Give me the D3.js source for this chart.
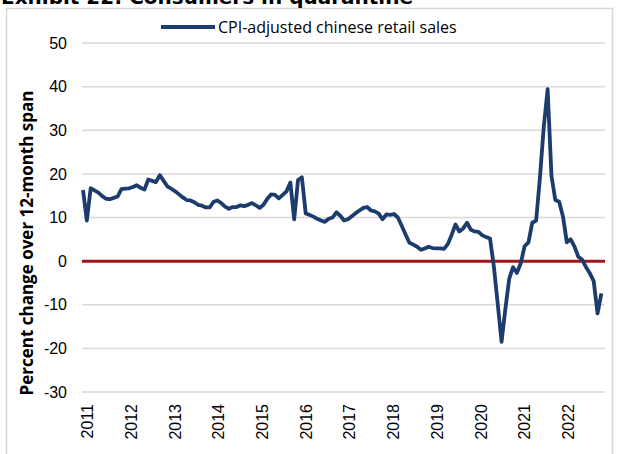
<!DOCTYPE html>
<html>
<head>
<meta charset="utf-8">
<script src="https://cdn.jsdelivr.net/npm/d3@7"></script>
<style>
  body { margin: 0; background: #fff; }
  svg { display: block; font-family: "Open Sans", sans-serif; }
</style>
</head>
<body>
<script>
// data
var yearLabels = ['2011','2012','2013','2014','2015','2016','2017','2018','2019','2020','2021','2022']
var yTicks = [50, 40, 30, 20, 10, 0, -10, -20, -30]
var seriesName = 'CPI-adjusted chinese retail sales'
var retailSales = [
  16.3, 9.3, 16.7, 16.2, 15.7, 14.9, 14.3, 14.2, 14.5, 14.8,
  16.5, 16.6, 16.7, 17.0, 17.4, 16.8, 16.4, 18.7, 18.4, 18.1,
  19.7, 18.4, 17.1, 16.6, 16.0, 15.3, 14.6, 14.0, 13.9, 13.5,
  12.9, 12.7, 12.3, 12.3, 13.6, 13.9, 13.3, 12.5, 12.0, 12.4,
  12.4, 12.8, 12.6, 12.9, 13.3, 12.8, 12.2, 12.9, 14.3, 15.3,
  15.2, 14.4, 15.2, 16.0, 18.0, 9.6, 18.6, 19.2, 10.9, 10.6,
  10.2, 9.7, 9.3, 9.0, 9.7, 10.0, 11.2, 10.4, 9.3, 9.6,
  10.3, 11.0, 11.6, 12.2, 12.4, 11.6, 11.4, 10.9, 9.6, 10.7,
  10.6, 10.8, 10.0, 8.1, 6.1, 4.2, 3.8, 3.3, 2.6, 2.9,
  3.3, 3.0, 2.9, 2.9, 2.8, 3.9, 6.0, 8.4, 6.8, 7.5,
  8.8, 7.2, 6.8, 6.7, 5.9, 5.5, 5.2, -1.3, -9.8, -18.5,
  -10.9, -4.0, -1.4, -2.7, -0.5, 3.4, 4.3, 8.8, 9.3, 19.2,
  30.9, 39.4, 19.5, 14.0, 13.6, 10.2, 4.3, 5.0, 3.3, 1.0,
  0.3, -1.4, -2.8, -4.6, -12.0, -7.4
]

var W = 626, H = 454
var svg = d3.select(document.body).append('svg')
  .attr('width', W)
  .attr('height', H)

var x = d3.scaleLinear().domain([0, retailSales.length - 1]).range([83, 601.4])
var xYears = d3.scalePoint().domain(yearLabels).range([87, 568])
var y = d3.scaleLinear().domain([-30, 50]).range([392, 43])

// frame + title (title cut off at the top like the source)
svg.append('rect')
  .attr('x', 6.5).attr('y', 8.5)
  .attr('width', 606).attr('height', 460)
  .attr('fill', 'none').attr('stroke', '#d6d6d6').attr('stroke-width', 1.5)

svg.append('text')
  .attr('x', 1).attr('y', 4)
  .style('font-family', '"DejaVu Sans", sans-serif')
  .style('font-weight', 'bold').style('font-size', '20px')
  .attr('fill', '#000')
  .text('Exhibit 22: Consumers in quarantine')

// gridlines
svg.append('g').selectAll('line').data(yTicks).enter().append('line')
  .attr('x1', 82).attr('x2', 605)
  .attr('y1', function(d) { return y(d) }).attr('y2', function(d) { return y(d) })
  .attr('stroke', '#d9d9d9').attr('stroke-width', 1.5)

// y axis
var yAxis = svg.append('g').attr('transform', 'translate(82,0)')
  .call(d3.axisLeft(y).tickValues(yTicks).tickSize(0).tickPadding(15)
    .tickFormat(function(d) { return String(d) }))
yAxis.select('.domain').remove()
yAxis.selectAll('text').style('font-size', '16px').attr('fill', '#000')

svg.append('text')
  .attr('transform', 'translate(27,243) rotate(-90)')
  .attr('text-anchor', 'middle')
  .attr('dy', '0.35em')
  .style('font-size', '17px').style('font-weight', 'bold')
  .attr('fill', '#000')
  .text('Percent change over 12-month span')

// x axis, rotated year labels
var xAxis = svg.append('g').attr('transform', 'translate(0,404)')
  .call(d3.axisBottom(xYears).tickSize(0))
xAxis.select('.domain').remove()
xAxis.selectAll('text')
  .attr('x', 0).attr('y', 0).attr('dy', '0.35em')
  .attr('transform', 'rotate(-90)')
  .style('text-anchor', 'end')
  .style('font-size', '16px').attr('fill', '#000')

// zero line
svg.append('line')
  .attr('x1', 82).attr('x2', 605)
  .attr('y1', y(0)).attr('y2', y(0))
  .attr('stroke', '#a0161a').attr('stroke-width', 3)

// series
var line = d3.line()
  .x(function(d, i) { return x(i) })
  .y(function(d) { return y(d) })

svg.append('path')
  .datum(retailSales)
  .attr('d', line)
  .attr('fill', 'none')
  .attr('stroke', '#1b3c6c')
  .attr('stroke-width', 3.8)
  .attr('stroke-linejoin', 'round')

// legend
svg.append('line')
  .attr('x1', 161).attr('x2', 215).attr('y1', 27).attr('y2', 27)
  .attr('stroke', '#1b3c6c').attr('stroke-width', 3.8)
svg.append('text')
  .attr('x', 218).attr('y', 27).attr('dy', '0.35em')
  .style('font-size', '16px').attr('fill', '#000')
  .text(seriesName)
</script>
</body>
</html>
